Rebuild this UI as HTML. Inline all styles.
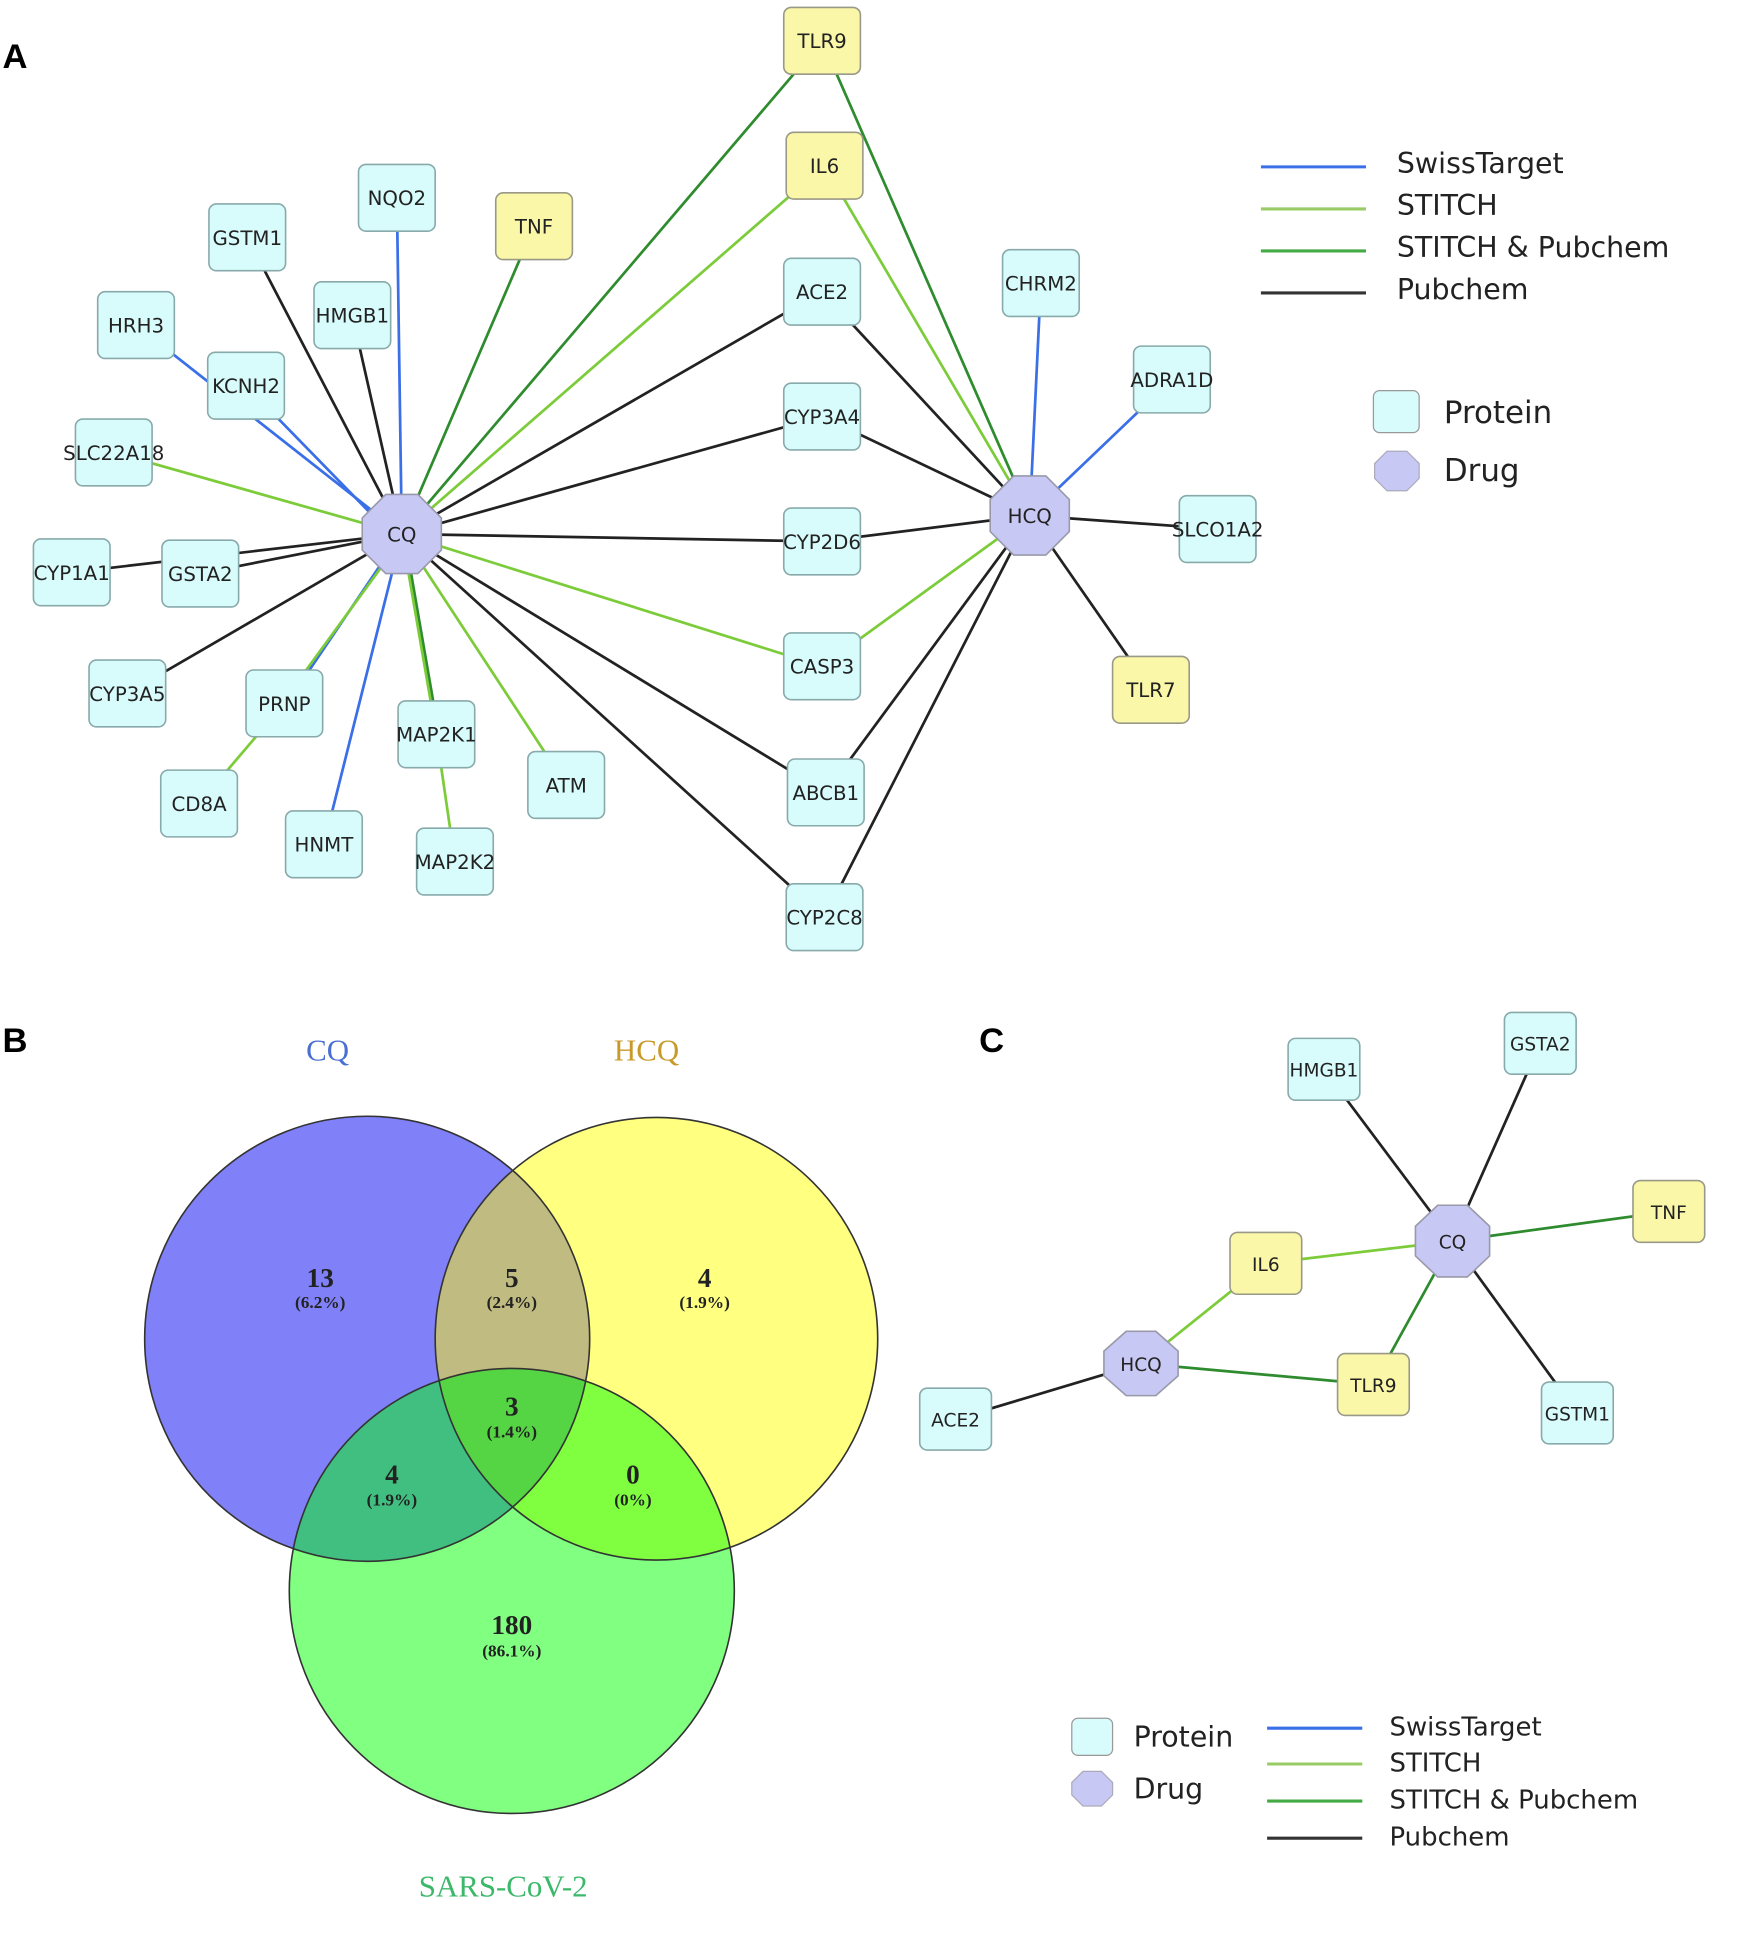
<!DOCTYPE html>
<html><head><meta charset="utf-8"><style>html,body{margin:0;padding:0;background:#fff}svg{display:block}</style></head><body>
<svg width="1748" height="1942" viewBox="0 0 1414 1571" xmlns="http://www.w3.org/2000/svg" font-family="'DejaVu Sans', 'Liberation Sans', sans-serif">
<rect width="1414" height="1571" fill="#fff"/>
<text x="2" y="55" font-size="28" font-weight="bold" font-family="'Liberation Sans',sans-serif">A</text>
<text x="2" y="851" font-size="28" font-weight="bold" font-family="'Liberation Sans',sans-serif">B</text>
<text x="792" y="851" font-size="28" font-weight="bold" font-family="'Liberation Sans',sans-serif">C</text>
<!-- edges A -->
<g stroke-width="2.2" fill="none">
<g stroke="#222">
<line x1="325" y1="432" x2="200" y2="192"/><line x1="325" y1="432" x2="285" y2="255"/>
<line x1="325" y1="432" x2="665" y2="236"/><line x1="325" y1="432" x2="665" y2="337"/>
<line x1="325" y1="432" x2="665" y2="438"/><line x1="325" y1="432" x2="668" y2="641"/>
<line x1="325" y1="432" x2="667" y2="742"/><line x1="325" y1="432" x2="103" y2="561"/>
<line x1="325" y1="432" x2="162" y2="464"/><line x1="325" y1="432" x2="58" y2="463"/>
<line x1="833" y1="417" x2="665" y2="236"/><line x1="833" y1="417" x2="665" y2="337"/>
<line x1="833" y1="417" x2="665" y2="438"/><line x1="833" y1="417" x2="985" y2="428"/>
<line x1="833" y1="417" x2="931" y2="558"/><line x1="833" y1="417" x2="668" y2="641"/>
<line x1="833" y1="417" x2="667" y2="742"/>
</g>
<g stroke="#3a6fe8">
<line x1="325" y1="432" x2="321" y2="160"/><line x1="325" y1="432" x2="110" y2="263"/>
<line x1="320" y1="436" x2="199" y2="312"/><line x1="325" y1="432" x2="262" y2="683"/>
<line x1="322" y1="436" x2="232" y2="569"/><line x1="833" y1="417" x2="842" y2="229"/>
<line x1="833" y1="417" x2="948" y2="307"/>
</g>
<g stroke="#2e8b2e">
<line x1="325" y1="432" x2="432" y2="183"/><line x1="325" y1="432" x2="665" y2="33"/>
<line x1="833" y1="417" x2="665" y2="33"/><line x1="327" y1="432" x2="355" y2="594"/>
</g>
<g stroke="#7ccc3a">
<line x1="325" y1="432" x2="667" y2="134"/><line x1="325" y1="432" x2="665" y2="539"/>
<line x1="325" y1="432" x2="458" y2="635"/><line x1="325" y1="432" x2="353" y2="594"/>
<line x1="328" y1="432" x2="228" y2="569"/><line x1="325" y1="432" x2="92" y2="366"/>
<line x1="230" y1="569" x2="161" y2="650"/><line x1="353" y1="594" x2="368" y2="697"/>
<line x1="833" y1="417" x2="667" y2="134"/><line x1="833" y1="417" x2="665" y2="539"/>
</g>
</g>
<!-- nodes A -->
<g font-size="16" text-anchor="middle" fill="#222" stroke-width="1.3">
<g stroke="#8aa" fill="#d8fbfb">
<rect x="290" y="133" width="62" height="54" rx="6"/><rect x="169" y="165" width="62" height="54" rx="6"/>
<rect x="254" y="228" width="62" height="54" rx="6"/><rect x="79" y="236" width="62" height="54" rx="6"/>
<rect x="168" y="285" width="62" height="54" rx="6"/><rect x="61" y="339" width="62" height="54" rx="6"/>
<rect x="27" y="436" width="62" height="54" rx="6"/><rect x="131" y="437" width="62" height="54" rx="6"/>
<rect x="72" y="534" width="62" height="54" rx="6"/><rect x="199" y="542" width="62" height="54" rx="6"/>
<rect x="130" y="623" width="62" height="54" rx="6"/><rect x="231" y="656" width="62" height="54" rx="6"/>
<rect x="322" y="567" width="62" height="54" rx="6"/><rect x="337" y="670" width="62" height="54" rx="6"/>
<rect x="427" y="608" width="62" height="54" rx="6"/><rect x="634" y="209" width="62" height="54" rx="6"/>
<rect x="634" y="310" width="62" height="54" rx="6"/><rect x="634" y="411" width="62" height="54" rx="6"/>
<rect x="634" y="512" width="62" height="54" rx="6"/><rect x="637" y="614" width="62" height="54" rx="6"/>
<rect x="636" y="715" width="62" height="54" rx="6"/><rect x="811" y="202" width="62" height="54" rx="6"/>
<rect x="917" y="280" width="62" height="54" rx="6"/><rect x="954" y="401" width="62" height="54" rx="6"/>
</g>
<g stroke="#998" fill="#fbf7a8">
<rect x="634" y="6" width="62" height="54" rx="6"/><rect x="636" y="107" width="62" height="54" rx="6"/>
<rect x="401" y="156" width="62" height="54" rx="6"/><rect x="900" y="531" width="62" height="54" rx="6"/>
</g>
<g stroke="#99a" fill="#c8c8f4">
<polygon points="312,400 338,400 357,419 357,445 338,464 312,464 293,445 293,419"/>
<polygon points="820,385 846,385 865,404 865,430 846,449 820,449 801,430 801,404"/>
</g>
<text x="321" y="166">NQO2</text><text x="200" y="198">GSTM1</text><text x="285" y="261">HMGB1</text>
<text x="110" y="269">HRH3</text><text x="199" y="318">KCNH2</text><text x="92" y="372">SLC22A18</text>
<text x="58" y="469">CYP1A1</text><text x="162" y="470">GSTA2</text><text x="103" y="567">CYP3A5</text>
<text x="230" y="575">PRNP</text><text x="161" y="656">CD8A</text><text x="262" y="689">HNMT</text>
<text x="353" y="600">MAP2K1</text><text x="368" y="703">MAP2K2</text><text x="458" y="641">ATM</text>
<text x="665" y="242">ACE2</text><text x="665" y="343">CYP3A4</text><text x="665" y="444">CYP2D6</text>
<text x="665" y="545">CASP3</text><text x="668" y="647">ABCB1</text><text x="667" y="748">CYP2C8</text>
<text x="842" y="235">CHRM2</text><text x="948" y="313">ADRA1D</text><text x="985" y="434">SLCO1A2</text>
<text x="665" y="39">TLR9</text><text x="667" y="140">IL6</text><text x="432" y="189">TNF</text><text x="931" y="564">TLR7</text>
<text x="325" y="438">CQ</text><text x="833" y="423">HCQ</text>
</g>
<!-- legend A -->
<g stroke-width="2.5">
<line x1="1020" y1="135" x2="1105" y2="135" stroke="#3a6fe8"/>
<line x1="1020" y1="169" x2="1105" y2="169" stroke="#9c6"/>
<line x1="1020" y1="203" x2="1105" y2="203" stroke="#4a4"/>
<line x1="1020" y1="237" x2="1105" y2="237" stroke="#333"/>
</g>
<g font-size="23" fill="#222">
<text x="1130" y="140">SwissTarget</text><text x="1130" y="174">STITCH</text>
<text x="1130" y="208">STITCH &amp; Pubchem</text><text x="1130" y="242">Pubchem</text>
<text x="1168" y="342" font-size="25">Protein</text><text x="1168" y="389" font-size="25">Drug</text>
</g>
<rect x="1111" y="316" width="37" height="34" rx="5" fill="#d8fbfb" stroke="#999"/>
<polygon points="1122,365 1138,365 1148,375 1148,387 1138,397 1122,397 1112,387 1112,375" fill="#c8c8f4" stroke="#aab"/>
<!-- Venn -->
<defs>
<clipPath id="cb"><circle cx="297" cy="1083" r="180"/></clipPath>
<clipPath id="cy"><circle cx="531" cy="1083" r="179"/></clipPath>
<clipPath id="cg"><circle cx="414" cy="1287" r="180"/></clipPath>
</defs>
<circle cx="297" cy="1083" r="180" fill="#8080f8"/>
<circle cx="531" cy="1083" r="179" fill="#ffff80"/>
<circle cx="414" cy="1287" r="180" fill="#80ff80"/>
<g clip-path="url(#cb)"><circle cx="531" cy="1083" r="179" fill="#c0bb80"/><circle cx="414" cy="1287" r="180" fill="#40bf80"/></g>
<g clip-path="url(#cy)"><circle cx="414" cy="1287" r="180" fill="#80ff40"/></g>
<g clip-path="url(#cb)"><g clip-path="url(#cy)"><circle cx="414" cy="1287" r="180" fill="#55d444"/></g></g>
<g fill="none" stroke="#333" stroke-width="1.3">
<circle cx="297" cy="1083" r="180"/><circle cx="531" cy="1083" r="179"/><circle cx="414" cy="1287" r="180"/>
</g>
<g font-family="'Liberation Serif',serif" font-weight="bold" text-anchor="middle" fill="#222">
<text x="259" y="1041" font-size="22">13</text><text x="259" y="1058" font-size="14">(6.2%)</text>
<text x="414" y="1041" font-size="22">5</text><text x="414" y="1058" font-size="14">(2.4%)</text>
<text x="570" y="1041" font-size="22">4</text><text x="570" y="1058" font-size="14">(1.9%)</text>
<text x="414" y="1145" font-size="22">3</text><text x="414" y="1163" font-size="14">(1.4%)</text>
<text x="317" y="1200" font-size="22">4</text><text x="317" y="1218" font-size="14">(1.9%)</text>
<text x="512" y="1200" font-size="22">0</text><text x="512" y="1218" font-size="14">(0%)</text>
<text x="414" y="1322" font-size="22">180</text><text x="414" y="1340" font-size="14">(86.1%)</text>
</g>
<g font-family="'Liberation Serif',serif" font-size="25" text-anchor="middle">
<text x="265" y="858" fill="#4a6fd0">CQ</text>
<text x="523" y="858" fill="#c89a2a">HCQ</text>
<text x="407" y="1534" fill="#3cb86a">SARS-CoV-2</text>
</g>
<!-- C -->
<g stroke-width="2.2">
<line x1="1175" y1="1004" x2="1071" y2="865" stroke="#222"/><line x1="1175" y1="1004" x2="1246" y2="844" stroke="#222"/>
<line x1="1175" y1="1004" x2="1276" y2="1143" stroke="#222"/><line x1="923" y1="1103" x2="773" y2="1148" stroke="#222"/>
<line x1="1175" y1="1004" x2="1350" y2="980" stroke="#2e8b2e"/><line x1="1175" y1="1004" x2="1111" y2="1120" stroke="#2e8b2e"/>
<line x1="923" y1="1103" x2="1111" y2="1120" stroke="#2e8b2e"/>
<line x1="1175" y1="1004" x2="1024" y2="1022" stroke="#7ccc3a"/><line x1="923" y1="1103" x2="1024" y2="1022" stroke="#7ccc3a"/>
</g>
<g font-size="15" text-anchor="middle" fill="#222" stroke-width="1.3">
<g stroke="#8aa" fill="#d8fbfb">
<rect x="1042" y="840" width="58" height="50" rx="6"/><rect x="1217" y="819" width="58" height="50" rx="6"/>
<rect x="1247" y="1118" width="58" height="50" rx="6"/><rect x="744" y="1123" width="58" height="50" rx="6"/>
</g>
<g stroke="#998" fill="#fbf7a8">
<rect x="1321" y="955" width="58" height="50" rx="6"/><rect x="995" y="997" width="58" height="50" rx="6"/>
<rect x="1082" y="1095" width="58" height="50" rx="6"/>
</g>
<g stroke="#99a" fill="#c8c8f4">
<polygon points="1163,975 1187,975 1205,992 1205,1016 1187,1033 1163,1033 1145,1016 1145,992"/>
<polygon points="911,1077 935,1077 953,1093 953,1113 935,1129 911,1129 893,1113 893,1093"/>
</g>
<text x="1071" y="871">HMGB1</text><text x="1246" y="850">GSTA2</text><text x="1276" y="1149">GSTM1</text>
<text x="773" y="1154">ACE2</text><text x="1350" y="986">TNF</text><text x="1024" y="1028">IL6</text>
<text x="1111" y="1126">TLR9</text><text x="1175" y="1010">CQ</text><text x="923" y="1109">HCQ</text>
</g>
<rect x="867" y="1390" width="33" height="30" rx="5" fill="#d8fbfb" stroke="#999"/>
<polygon points="876,1433 891,1433 900,1442 900,1452 891,1461 876,1461 867,1452 867,1442" fill="#c8c8f4" stroke="#aab"/>
<g stroke-width="2.5">
<line x1="1025" y1="1398" x2="1102" y2="1398" stroke="#3a6fe8"/>
<line x1="1025" y1="1427" x2="1102" y2="1427" stroke="#9c6"/>
<line x1="1025" y1="1457" x2="1102" y2="1457" stroke="#4a4"/>
<line x1="1025" y1="1487" x2="1102" y2="1487" stroke="#333"/>
</g>
<g font-size="21" fill="#222">
<text x="1124" y="1404">SwissTarget</text><text x="1124" y="1433">STITCH</text>
<text x="1124" y="1463">STITCH &amp; Pubchem</text><text x="1124" y="1493">Pubchem</text>
<text x="917" y="1413" font-size="23">Protein</text><text x="917" y="1455" font-size="23">Drug</text>
</g>
</svg>
</body></html>
